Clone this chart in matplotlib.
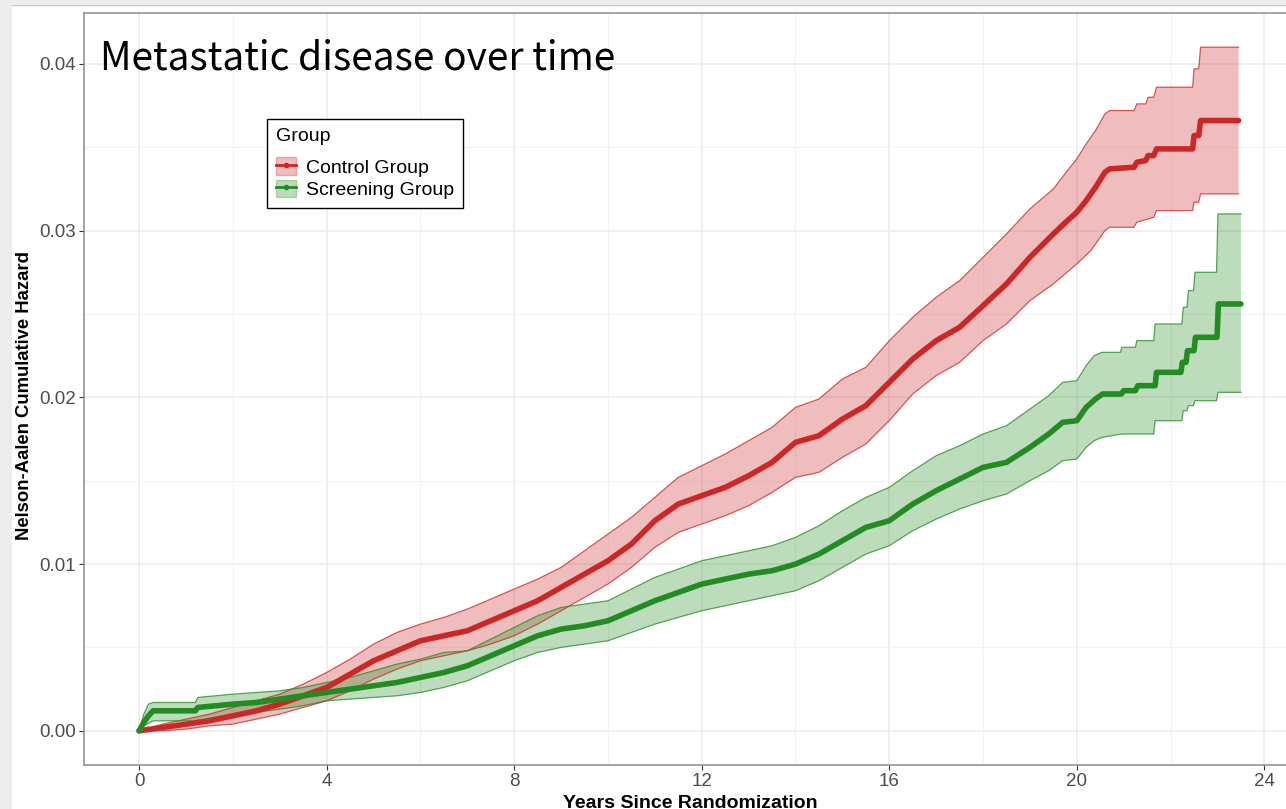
import matplotlib
matplotlib.use("Agg")
import matplotlib.pyplot as plt
from matplotlib.patches import Patch, Rectangle
from matplotlib.lines import Line2D
from matplotlib.ticker import MultipleLocator, FormatStrFormatter

# ---------------- data ----------------
groups = ["Control Group", "Screening Group"]

ctrl_t = [0, 0.5, 1, 1.5, 2, 2.5, 3, 3.5, 4, 4.5, 5, 5.5, 6, 6.5, 7, 7.5, 8, 8.5, 9, 9.5,
          10, 10.5, 11, 11.5, 12, 12.5, 13, 13.5, 14, 14.5, 15, 15.5, 16, 16.5, 17, 17.5,
          18, 18.5, 19, 19.5, 19.8, 20.0, 20.2, 20.4, 20.6, 20.7, 21.22, 21.28, 21.47, 21.52,
          21.64, 21.7, 22.47, 22.5, 22.6, 22.64, 23.45]
ctrl_h = [0.0000, 0.0002, 0.0004, 0.0006, 0.0009, 0.0012, 0.0016, 0.0021, 0.0026, 0.0034,
          0.0042, 0.0048, 0.0054, 0.0057, 0.0060, 0.0066, 0.0072, 0.0078, 0.0086, 0.0094,
          0.0102, 0.0112, 0.0126, 0.0136, 0.0141, 0.0146, 0.0153, 0.0161, 0.0173, 0.0177,
          0.0187, 0.0195, 0.0209, 0.0223, 0.0234, 0.0242, 0.0255, 0.0268, 0.0284, 0.0298,
          0.0306, 0.0311, 0.0318, 0.0326, 0.0335, 0.0337, 0.0338, 0.0341, 0.0342, 0.0345,
          0.0345, 0.0349, 0.0349, 0.0357, 0.0357, 0.0366, 0.0366]

ctrl_up_t = [0, 0.5, 1, 1.5, 2, 2.5, 3, 3.5, 4, 4.5, 5, 5.5, 6, 6.5, 7, 7.5, 8, 8.5, 9, 9.5,
             10, 10.5, 11, 11.5, 12, 12.5, 13, 13.5, 14, 14.5, 15, 15.5, 16, 16.5, 17, 17.5,
             18, 18.5, 19, 19.5, 19.8, 20.0, 20.2, 20.4, 20.6, 20.7, 21.22, 21.28, 21.47, 21.52,
             21.64, 21.7, 22.47, 22.5, 22.6, 22.64, 23.45]
ctrl_up = [0.0000, 0.0004, 0.0007, 0.0010, 0.0014, 0.0018, 0.0022, 0.0028, 0.0035, 0.0043,
           0.0052, 0.0059, 0.0064, 0.0068, 0.0073, 0.0079, 0.0085, 0.0091, 0.0098, 0.0108,
           0.0118, 0.0128, 0.0140, 0.0152, 0.0159, 0.0166, 0.0174, 0.0182, 0.0194, 0.0199,
           0.0211, 0.0218, 0.0234, 0.0248, 0.0260, 0.0270, 0.0284, 0.0298, 0.0313, 0.0325,
           0.0336, 0.0343, 0.0352, 0.0360, 0.0370, 0.0372, 0.0372, 0.0376, 0.0376, 0.0380,
           0.0380, 0.0386, 0.0386, 0.0397, 0.0397, 0.0410, 0.0410]

ctrl_lo_t = [0, 0.5, 1, 1.5, 2, 2.5, 3, 3.5, 4, 4.5, 5, 5.5, 6, 6.5, 7, 7.5, 8, 8.5, 9, 9.5,
             10, 10.5, 11, 11.5, 12, 12.5, 13, 13.5, 14, 14.5, 15, 15.5, 16, 16.5, 17, 17.5,
             18, 18.5, 19, 19.5, 20.0, 20.3, 20.6, 20.7, 21.22, 21.28, 21.64, 21.7, 22.47,
             22.5, 22.6, 22.64, 23.45]
ctrl_lo = [0.0000, 0.0000, 0.0001, 0.0003, 0.0004, 0.0007, 0.0010, 0.0014, 0.0018, 0.0024,
           0.0031, 0.0037, 0.0042, 0.0045, 0.0048, 0.0052, 0.0057, 0.0064, 0.0072, 0.0080,
           0.0088, 0.0098, 0.0110, 0.0119, 0.0124, 0.0129, 0.0135, 0.0143, 0.0152, 0.0155,
           0.0164, 0.0172, 0.0186, 0.0202, 0.0213, 0.0221, 0.0234, 0.0244, 0.0258, 0.0268,
           0.0280, 0.0288, 0.0300, 0.0302, 0.0302, 0.0305, 0.0308, 0.0312, 0.0312, 0.0317,
           0.0317, 0.0322, 0.0322]

scr_t = [0, 0.1, 0.2, 0.3, 1.2, 1.25, 2, 2.5, 3, 3.5, 4, 4.5, 5, 5.5, 6, 6.5, 7, 7.5, 8, 8.5,
         9, 9.5, 10, 10.5, 11, 11.5, 12, 12.5, 13, 13.5, 14, 14.5, 15, 15.5, 16, 16.5, 17,
         17.5, 18, 18.5, 19, 19.4, 19.7, 20.0, 20.2, 20.4, 20.55, 20.95, 21.0, 21.25, 21.3,
         21.67, 21.7, 22.22, 22.25, 22.33, 22.36, 22.5, 22.53, 22.99, 23.02, 23.5]
scr_h = [0.0000, 0.0005, 0.0009, 0.0012, 0.0012, 0.0014, 0.0016, 0.0017, 0.0019, 0.0021,
         0.0023, 0.0025, 0.0027, 0.0029, 0.0032, 0.0035, 0.0039, 0.0045, 0.0051, 0.0057,
         0.0061, 0.0063, 0.0066, 0.0072, 0.0078, 0.0083, 0.0088, 0.0091, 0.0094, 0.0096,
         0.0100, 0.0106, 0.0114, 0.0122, 0.0126, 0.0136, 0.0144, 0.0151, 0.0158, 0.0161,
         0.0170, 0.0178, 0.0185, 0.0186, 0.0194, 0.0199, 0.0202, 0.0202, 0.0204, 0.0204,
         0.0207, 0.0207, 0.0215, 0.0215, 0.0221, 0.0221, 0.0228, 0.0228, 0.0236, 0.0236,
         0.0256, 0.0256]

scr_up_t = [0, 0.1, 0.2, 0.3, 1.2, 1.25, 2, 2.5, 3, 3.5, 4, 4.5, 5, 5.5, 6, 6.5, 7, 7.5, 8,
            8.5, 9, 9.5, 10, 10.5, 11, 11.5, 12, 12.5, 13, 13.5, 14, 14.5, 15, 15.5, 16, 16.5,
            17, 17.5, 18, 18.5, 19, 19.4, 19.7, 20.0, 20.2, 20.37, 20.54, 20.93, 20.96, 21.25,
            21.28, 21.64, 21.67, 22.24, 22.27, 22.35, 22.38, 22.49, 22.52, 22.98, 23.01, 23.5]
scr_up = [0.0000, 0.0010, 0.0016, 0.0017, 0.0017, 0.0020, 0.0022, 0.0023, 0.0024, 0.0026,
          0.0029, 0.0032, 0.0036, 0.0040, 0.0043, 0.0047, 0.0048, 0.0055, 0.0062, 0.0069,
          0.0074, 0.0076, 0.0078, 0.0085, 0.0092, 0.0097, 0.0102, 0.0105, 0.0108, 0.0111,
          0.0116, 0.0123, 0.0132, 0.0140, 0.0146, 0.0156, 0.0165, 0.0171, 0.0178, 0.0183,
          0.0193, 0.0201, 0.0209, 0.0210, 0.0219, 0.0225, 0.0227, 0.0227, 0.0230, 0.0230,
          0.0234, 0.0234, 0.0244, 0.0244, 0.0254, 0.0254, 0.0264, 0.0264, 0.0275, 0.0275,
          0.0310, 0.0310]

scr_lo_t = [0, 0.1, 0.3, 1.2, 2, 2.5, 3, 3.5, 4, 4.5, 5, 5.5, 6, 6.5, 7, 7.5, 8, 8.5, 9, 9.5,
            10, 10.5, 11, 11.5, 12, 12.5, 13, 13.5, 14, 14.5, 15, 15.5, 16, 16.5, 17, 17.5,
            18, 18.5, 19, 19.4, 19.7, 20.0, 20.2, 20.37, 20.54, 20.96, 21.64, 21.67, 22.24,
            22.27, 22.35, 22.38, 22.49, 22.52, 22.98, 23.01, 23.5]
scr_lo = [0.0000, 0.0003, 0.0006, 0.0006, 0.0010, 0.0011, 0.0013, 0.0015, 0.0018, 0.0019,
          0.0020, 0.0021, 0.0023, 0.0026, 0.0030, 0.0036, 0.0042, 0.0047, 0.0050, 0.0052,
          0.0054, 0.0059, 0.0064, 0.0068, 0.0072, 0.0075, 0.0078, 0.0081, 0.0084, 0.0090,
          0.0098, 0.0106, 0.0111, 0.0120, 0.0127, 0.0133, 0.0138, 0.0142, 0.0150, 0.0156,
          0.0162, 0.0163, 0.0170, 0.0174, 0.0176, 0.0178, 0.0178, 0.0186, 0.0186, 0.0192,
          0.0192, 0.0195, 0.0195, 0.0198, 0.0198, 0.0203, 0.0203]

x_ticks = [0, 4, 8, 12, 16, 20, 24]
y_ticks = [0.00, 0.01, 0.02, 0.03, 0.04]
title_text = "Metastatic disease over time"
x_label = "Years Since Randomization"
y_label = "Nelson-Aalen Cumulative Hazard"
legend_title = "Group"

# ---------------- style ----------------
RED = "#CD2626"
GREEN = "#228B22"
W, H = 1286, 809
fig = plt.figure(figsize=(W / 100, H / 100), dpi=100)
fig.patch.set_facecolor("white")

# screenshot frame
fig.add_artist(Rectangle((0, 0), 12 / W, 1, transform=fig.transFigure,
                         facecolor="#ECEEEC", edgecolor="none", zorder=0))
fig.add_artist(Rectangle((0, 1 - 4 / H), 1, 4 / H, transform=fig.transFigure,
                         facecolor="#ECEEEC", edgecolor="none", zorder=0))
fig.add_artist(Line2D([12 / W, 1], [1 - 4.5 / H, 1 - 4.5 / H], transform=fig.transFigure,
                      color="#B9C7DA", lw=1.0, zorder=1))

ax_l, ax_r, ax_t, ax_b = 84, 1296, 13, 765
ax = fig.add_axes([ax_l / W, 1 - ax_b / H, (ax_r - ax_l) / W, (ax_b - ax_t) / H])
ax.set_facecolor("white")

series = [
    (ctrl_t, ctrl_h, ctrl_lo_t, ctrl_lo, ctrl_up_t, ctrl_up, RED),
    (scr_t, scr_h, scr_lo_t, scr_lo, scr_up_t, scr_up, GREEN),
]

for t, h, lt, lo, ut, up, col in series:
    xs = list(ut) + list(lt)[::-1]
    ys = list(up) + list(lo)[::-1]
    ax.fill(xs, ys, facecolor=col, alpha=0.3, edgecolor="none", zorder=2)
    ax.plot(ut, up, color=col, lw=0.9, alpha=0.75, zorder=3)
    ax.plot(lt, lo, color=col, lw=0.9, alpha=0.75, zorder=3)

for t, h, lt, lo, ut, up, col in series:
    ax.plot(t, h, color=col, lw=4.0, solid_capstyle="round", solid_joinstyle="round", zorder=4)

ax.set_xlim(-1.175, 24.675)
ax.set_ylim(-0.00205, 0.04305)
ax.set_xticks(x_ticks)
ax.set_yticks(y_ticks)
ax.xaxis.set_minor_locator(MultipleLocator(2))
ax.yaxis.set_minor_locator(MultipleLocator(0.005))
ax.yaxis.set_major_formatter(FormatStrFormatter("%.2f"))
ax.grid(which="major", color="#EBEBEB", lw=1.1, zorder=0)
ax.grid(which="minor", color="#F3F3F3", lw=0.8, zorder=0)
ax.set_axisbelow(True)
ax.tick_params(which="major", direction="out", length=3.5, width=0.8, color="#333333",
               labelcolor="#4D4D4D", labelsize=13.5, pad=2.5)
ax.tick_params(which="minor", length=0)
for s in ax.spines.values():
    s.set_color("#8C8C8C")
    s.set_linewidth(1.1)

for lab in ax.get_xticklabels() + ax.get_yticklabels():
    lab.set_family("Liberation Sans")

axw, axh = ax_r - ax_l, ax_b - ax_t
ax.set_xlabel(x_label, fontsize=14, fontweight="bold", family="Liberation Sans",
              color="black", labelpad=3)
ax.set_ylabel(y_label, fontsize=13.3, fontweight="bold", family="Liberation Sans",
              color="black", va="center")
ax.yaxis.set_label_coords((25 - ax_l) / axw, (ax_b - 396) / axh)

fig.text(100 / W, 1 - 69 / H, title_text, fontsize=28, family="Noto Sans CJK JP",
         color="black", ha="left", va="baseline")

handles = [
    (Patch(facecolor=RED, alpha=0.3, edgecolor=RED), Line2D([], [], color=RED, lw=2, marker="o", ms=3)),
    (Patch(facecolor=GREEN, alpha=0.3, edgecolor=GREEN), Line2D([], [], color=GREEN, lw=2, marker="o", ms=3)),
]
leg = ax.legend(handles, groups, title=legend_title, loc="upper left",
                bbox_to_anchor=((267 - ax_l) / axw, (ax_b - 119) / axh),
                frameon=True, fancybox=False, edgecolor="black", framealpha=1,
                prop={"family": "Liberation Sans", "size": 14},
                title_fontproperties={"family": "Liberation Sans", "size": 14},
                handlelength=1.05, handleheight=1.0, handletextpad=0.5,
                labelspacing=0.15, borderpad=0.45, borderaxespad=0)
leg._legend_box.align = "left"
leg._legend_box.sep = 9
leg.get_frame().set_linewidth(1.0)

fig.savefig("out.png", dpi=100)
